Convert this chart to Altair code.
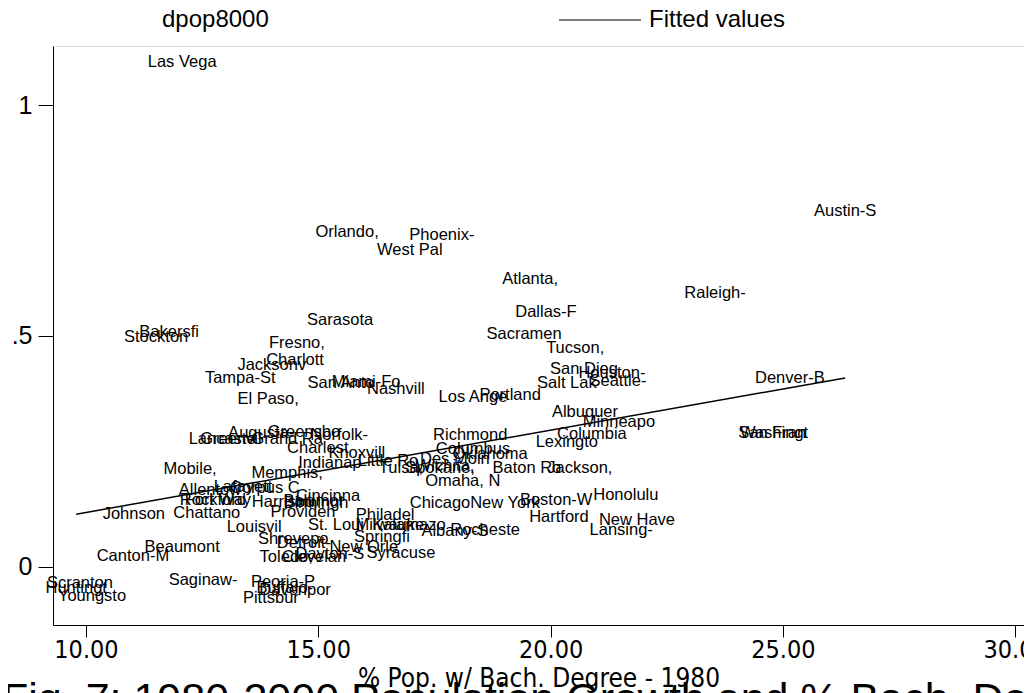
import altair as alt
import pandas as pd

# --- data ---
cities = [
    "Las Vega", "Orlando,", "Phoenix-", "West Pal", "Atlanta,", "Sarasota", "Dallas-F", "Sacramen",
    "Tucson,", "San Dieg", "Houston-", "Salt Lak", "Seattle-", "Raleigh-", "Austin-S", "Denver-B",
    "Washingt", "San Fran", "Albuquer", "Minneapo", "Columbia", "Lexingto", "Jackson,", "Baton Ro",
    "Honolulu", "Boston-W", "New York", "Chicago", "Hartford", "New Have", "Lansing-", "Richmond",
    "Columbus", "Oklahoma", "Des Moin", "Indianap", "Little Ro", "Tulsa,", "Spokane,", "Wichita,",
    "Omaha, N", "Knoxvill", "Charlest", "Norfolk-", "Greensbo", "Augusta-", "Lancaste", "Greenvil",
    "Grand Ra", "Mobile,", "Memphis,", "Allentow", "Lafayett", "Corpus C", "Rockford", "Fort Way",
    "Harrisbu", "Birmingh", "Baltimor", "Cincinna", "Chattano", "Johnson", "Providen", "Louisvil",
    "St. Loui", "Milwauke", "Kalamazo", "Philadel", "Albany-S", "Rocheste", "Springfi", "Syracuse",
    "Shrevepo", "Detroit-", "New Orle", "Toledo,", "Clevelan", "Dayton-S", "Beaumont", "Canton-M",
    "Saginaw-", "Peoria-P", "Davenpor", "Buffalo-", "Pittsbur", "Scranton", "Huntingt", "Youngsto",
    "Bakersfi", "Stockton", "Fresno,", "Charlott", "Jacksonv", "Tampa-St", "El Paso,", "San Anto",
    "Miami-Fo", "Nashvill", "Los Ange", "Portland",
]
bach80 = [
    12.07, 15.62, 17.66, 16.97, 19.56, 15.47, 19.90, 19.43,
    20.53, 20.72, 21.32, 20.35, 21.45, 23.54, 26.34, 25.15,
    24.81, 24.77, 20.74, 21.47, 20.89, 20.35, 20.63, 19.49,
    21.62, 20.12, 19.02, 17.62, 20.18, 21.86, 21.52, 18.27,
    18.33, 18.70, 17.94, 15.25, 16.50, 16.78, 17.62, 17.73,
    18.11, 15.83, 14.99, 15.45, 14.69, 13.77, 12.93, 13.12,
    14.33, 12.24, 14.33, 12.67, 13.38, 13.85, 12.73, 12.84,
    14.24, 14.95, 14.90, 15.21, 12.60, 11.03, 14.67, 13.62,
    15.38, 16.54, 16.95, 16.44, 17.94, 18.59, 16.37, 16.78,
    14.46, 14.69, 15.98, 14.31, 14.91, 15.25, 12.07, 11.01,
    12.52, 14.24, 14.50, 14.28, 13.98, 9.87, 9.79, 10.13,
    11.79, 11.51, 14.54, 14.50, 14.00, 13.32, 13.92, 15.49,
    16.03, 16.67, 18.33, 19.13,
]
dpop8000 = [
    1.093, 0.725, 0.719, 0.686, 0.623, 0.535, 0.552, 0.504,
    0.474, 0.428, 0.420, 0.398, 0.402, 0.593, 0.771, 0.409,
    0.290, 0.290, 0.335, 0.314, 0.288, 0.270, 0.214, 0.214,
    0.156, 0.145, 0.138, 0.138, 0.108, 0.101, 0.080, 0.285,
    0.255, 0.244, 0.233, 0.225, 0.229, 0.214, 0.214, 0.218,
    0.186, 0.246, 0.257, 0.285, 0.292, 0.290, 0.277, 0.277,
    0.277, 0.212, 0.203, 0.166, 0.173, 0.171, 0.145, 0.145,
    0.140, 0.138, 0.143, 0.153, 0.117, 0.114, 0.119, 0.086,
    0.091, 0.091, 0.091, 0.112, 0.078, 0.080, 0.065, 0.030,
    0.060, 0.052, 0.043, 0.021, 0.021, 0.028, 0.043, 0.023,
    -0.029, -0.033, -0.050, -0.046, -0.068, -0.035, -0.046, -0.063,
    0.509, 0.498, 0.485, 0.448, 0.437, 0.409, 0.363, 0.398,
    0.400, 0.385, 0.368, 0.372,
]

# fitted values (end points of the fitted line)
fit_x = [9.79, 26.34]
fit_y = [0.114, 0.409]

series_names = ["dpop8000", "Fitted values"]
x_ticks = [10, 15, 20, 25, 30]
y_ticks = [0, 0.5, 1]

caption = "Fig. 7: 1980-2000 Population Growth and % Bach. Degree"

df = pd.DataFrame({"city": cities, "bach80": bach80, "dpop8000": dpop8000})
fit = pd.DataFrame({"bach80": fit_x, "fitted": fit_y, "series": [series_names[1]] * len(fit_x)})

FONT = "Liberation Sans, Arial, sans-serif"
NARROW = "Liberation Sans Narrow, Arial Narrow, DejaVu Sans Condensed, sans-serif"

xscale = alt.Scale(domain=[9.29, 30.19], nice=False, zero=False)
yscale = alt.Scale(domain=[-0.126, 1.128], nice=False, zero=False)

xaxis = alt.Axis(
    values=x_ticks, format=".2f", title="% Pop. w/ Bach. Degree - 1980",
    grid=False, tickSize=12, tickColor="black", domainColor="black",
    labelFont=NARROW, labelFontSize=25, labelColor="black", labelPadding=0,
    titleFont=NARROW, titleFontSize=26, titleFontWeight="normal", titleColor="black",
    titlePadding=3, labelFlush=False,
)
yaxis = alt.Axis(
    values=y_ticks, title=None, grid=False, tickSize=15, tickColor="black",
    domainColor="black", labelFont=FONT, labelFontSize=25, labelColor="black",
    labelPadding=6,
    labelExpr="datum.value == 0.5 ? '.5' : (datum.value == 1 ? '1' : '0')",
)

labels = alt.Chart(df).mark_text(
    font=FONT, fontSize=16.5, align="center", baseline="middle", color="black"
).encode(
    x=alt.X("bach80:Q", scale=xscale, axis=xaxis),
    y=alt.Y("dpop8000:Q", scale=yscale, axis=yaxis),
    text="city:N",
)

line = alt.Chart(fit).mark_line(strokeWidth=1.5).encode(
    x=alt.X("bach80:Q", scale=xscale),
    y=alt.Y("fitted:Q", scale=yscale),
    color=alt.Color(
        "series:N",
        scale=alt.Scale(domain=series_names, range=["transparent", "black"]),
        legend=alt.Legend(
            title=None, orient="none", legendX=18, legendY=-68,
            direction="horizontal", columnPadding=287, symbolType="stroke",
            symbolSize=6724, symbolStrokeWidth=1.2, labelFont=FONT,
            labelFontSize=24, labelColor="black", labelOffset=7, padding=0,
        ),
    ),
)

chart = alt.layer(labels, line).properties(
    width=971, height=579,
    autosize=alt.AutoSizeParams(type="none"),
    padding={"left": 45, "top": 38, "right": 0, "bottom": 68},
    title=alt.TitleParams(
        caption, orient="bottom", anchor="start", font=FONT, fontSize=43,
        fontWeight="normal", color="black", offset=0, dx=-51, dy=-12, frame="group",
    ),
).configure_view(stroke=None).configure(background="white")

chart.save("out.html", embed_options={"renderer": "svg", "actions": False})
